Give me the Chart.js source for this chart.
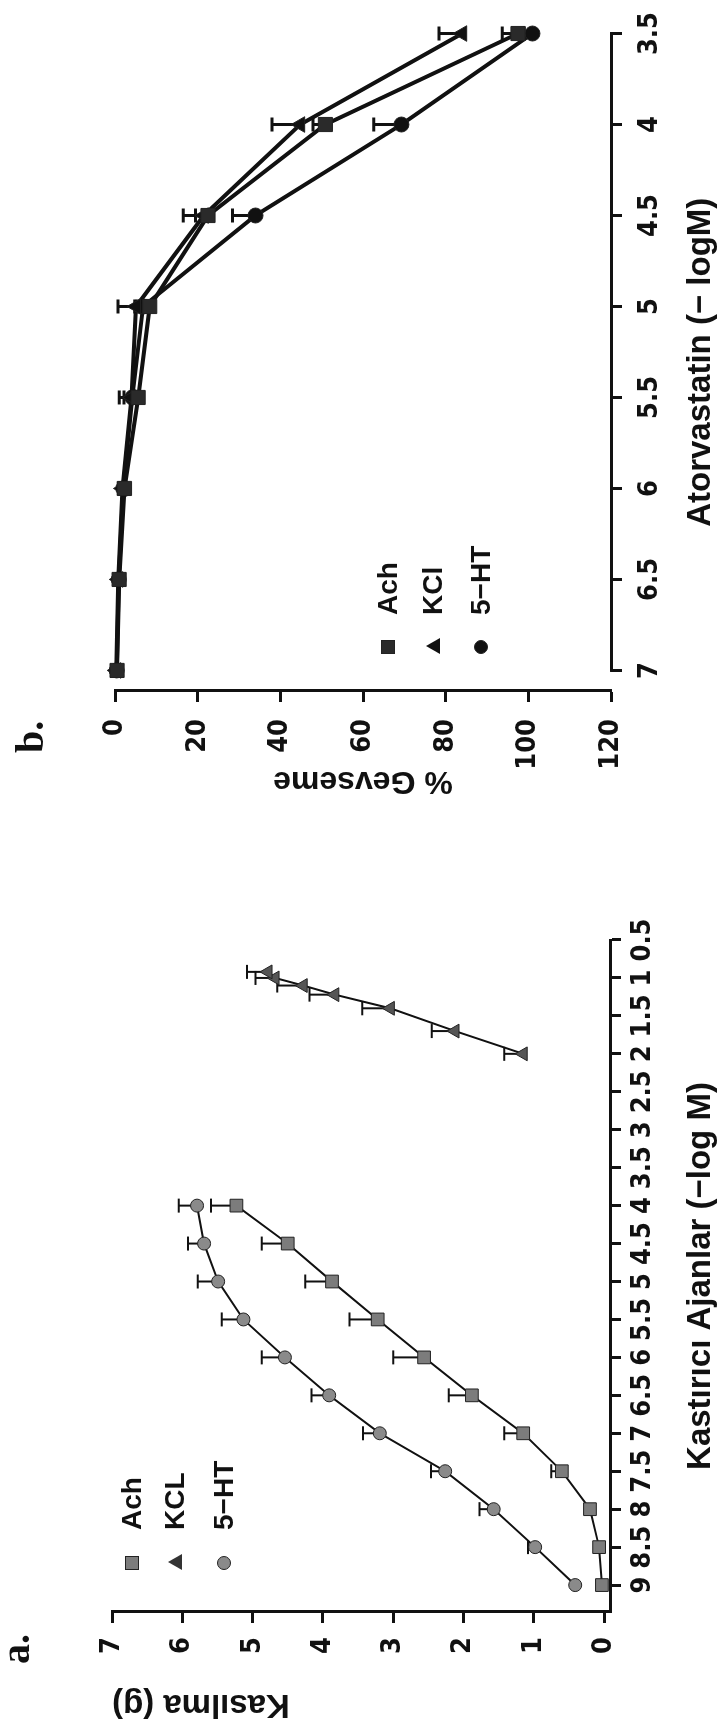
<!DOCTYPE html>
<html><head><meta charset="utf-8">
<script src="https://cdn.jsdelivr.net/npm/chart.js@4.4.1/dist/chart.umd.min.js"></script>
<style>
html,body{margin:0;padding:0;background:#fff;}
body{width:726px;height:1721px;overflow:hidden;position:relative;}
#fig{position:absolute;left:0;top:0;width:1721px;height:726px;transform-origin:0 0;transform:translateY(1721px) rotate(-90deg);background:#fff;}
#ca{position:absolute;left:0;top:0;}
#cb{position:absolute;left:860px;top:0;}
.lab{position:absolute;font-family:"Liberation Serif","Times New Roman",serif;font-weight:bold;font-size:40px;line-height:1;color:#111;}
.leg{position:absolute;font-family:"Liberation Sans",Arial,sans-serif;font-weight:bold;font-size:28px;line-height:1;color:#111;white-space:nowrap;}
.mk{position:absolute;}
</style></head><body>
<div id="fig">
  <canvas id="ca" width="860" height="726"></canvas>
  <canvas id="cb" width="861" height="726"></canvas>
  <div class="lab" style="left:57px;top:-4px">a.</div>
  <div class="lab" style="left:968px;top:10px">b.</div>
</div>
<script>
// ---------- Panel a: Kasılma (g) vs Kastırıcı Ajanlar (-log M) ----------
const aSeriesNames = ['Ach', 'KCL', '5−HT'];
const aConc = [9, 8.5, 8, 7.5, 7, 6.5, 6, 5.5, 5, 4.5, 4];
const aAch = [0.03, 0.07, 0.2, 0.6, 1.15, 1.88, 2.56, 3.22, 3.87, 4.5, 5.23];
const aAchErr = [0, 0, 0, 0.15, 0.27, 0.33, 0.44, 0.4, 0.38, 0.37, 0.36];
const a5HT = [0.41, 0.98, 1.57, 2.26, 3.19, 3.91, 4.54, 5.13, 5.49, 5.69, 5.79];
const a5HTErr = [0, 0.1, 0.2, 0.2, 0.24, 0.25, 0.33, 0.31, 0.29, 0.23, 0.26];
const aKclConc = [2.0, 1.7, 1.4, 1.22, 1.1, 1.0, 0.92];
const aKcl = [1.15, 2.12, 3.04, 3.83, 4.28, 4.68, 4.78];
const aKclErr = [0.27, 0.33, 0.4, 0.36, 0.37, 0.28, 0.3];
const aXTicks = [9, 8.5, 8, 7.5, 7, 6.5, 6, 5.5, 5, 4.5, 4, 3.5, 3, 2.5, 2, 1.5, 1, 0.5];
const aYTicks = [0, 1, 2, 3, 4, 5, 6, 7];
const aXTitle = 'Kastırıcı Ajanlar (−log M)';
const aYTitle = 'Kasılma (g)';

// ---------- Panel b: % Gevseme vs Atorvastatin (-logM) ----------
const bSeriesNames = ['Ach', 'KCl', '5−HT'];
const bConc = [7, 6.5, 6, 5.5, 5, 4.5, 4, 3.5];
const bAch = [0.5, 1.0, 2.3, 5.6, 8.4, 22.5, 50.9, 97.5];
const bAchErr = [0, 0.5, 1, 2, 3, 3, 3, 3.8];
const bKcl = [0.3, 0.8, 1.8, 4.0, 5.1, 21.5, 44.8, 84];
const bKclErr = [0, 0.5, 1, 3, 4.4, 5, 6.8, 5.6];
const b5HT = [0.4, 0.9, 2.0, 4.2, 6.8, 34, 69.3, 101];
const b5HTErr = [0, 0.5, 1, 2, 2, 5.6, 6.7, 2];
const bXTicks = [7, 6.5, 6, 5.5, 5, 4.5, 4, 3.5];
const bYTicks = [0, 20, 40, 60, 80, 100, 120];
const bXTitle = 'Atorvastatin (− logM)';
const bYTitle = '% Gevseme';

const pts = (xs, ys) => xs.map((x, i) => ({x: x, y: ys[i]}));
const tickFont = {family: '"Liberation Sans Narrow", "DejaVu Sans Condensed", "Liberation Sans", Arial, sans-serif', weight: 'bold', size: 27};
const titleFont = {family: '"Liberation Sans", Arial, sans-serif', weight: 'bold', size: 33, lineHeight: 1};
const INK = '#111';

const errorBars = {
  id: 'errorBars',
  beforeDatasetsDraw(chart, args, opts) {
    const ctx = chart.ctx, xs = chart.scales.x, ys = chart.scales.y;
    ctx.save();
    ctx.strokeStyle = INK; ctx.lineWidth = opts.width; ctx.lineCap = 'butt';
    chart.data.datasets.forEach(ds => {
      if (!ds.errors) return;
      ds.data.forEach((p, j) => {
        const e = ds.errors[j];
        if (!e) return;
        const x = xs.getPixelForValue(p.x);
        const y0 = ys.getPixelForValue(p.y);
        const y1 = ys.getPixelForValue(p.y + opts.dir * e);
        ctx.beginPath();
        ctx.moveTo(x, y0); ctx.lineTo(x, y1);
        ctx.moveTo(x - opts.cap, y1); ctx.lineTo(x + opts.cap, y1);
        ctx.stroke();
      });
    });
    ctx.restore();
  }
};

const xLine = {
  id: 'xLine',
  afterDraw(chart, args, opts) {
    if (!opts.ticks) return;
    const ctx = chart.ctx, xs = chart.scales.x;
    const a = xs.getPixelForValue(Math.max(...opts.ticks));
    const b = xs.getPixelForValue(Math.min(...opts.ticks));
    ctx.save();
    ctx.strokeStyle = INK; ctx.lineWidth = 3;
    ctx.beginPath(); ctx.moveTo(a - 1.5, xs.top + 0.5); ctx.lineTo(b + 1.5, xs.top + 0.5); ctx.stroke();
    ctx.restore();
  }
};

function axisCommon(tickVals, padding) {
  return {
    type: 'linear',
    afterBuildTicks: s => { s.ticks = tickVals.map(v => ({value: v})); },
    ticks: {autoSkip: false, maxRotation: 0, minRotation: 0, font: tickFont, color: INK, padding: padding,
            callback: v => String(v)},
    grid: {display: true, drawOnChartArea: false, drawTicks: true, tickLength: 11, tickWidth: 3, tickColor: INK},
    border: {display: true, color: INK, width: 3}
  };
}

function series(label, xs, ys, errs, style, radius, fill, lineW) {
  return {label: label, data: pts(xs, ys), errors: errs, borderColor: INK, borderWidth: lineW,
          pointStyle: style, pointRadius: radius, pointHoverRadius: radius,
          pointBackgroundColor: fill, pointBorderColor: '#222', pointBorderWidth: 1,
          tension: 0, fill: false, clip: false};
}

// Chart a
const axA = axisCommon(aXTicks, 6);
Object.assign(axA, {reverse: true, min: 0.5, max: 9.355,
  afterFit: s => { s.height = 116; },
  title: {display: true, text: aXTitle, font: titleFont, color: INK, padding: {top: 0, bottom: 9}}});
const ayA = axisCommon(aYTicks, 14);
Object.assign(ayA, {min: -0.085, max: 7,
  afterFit: s => { s.width = 109; },
  title: {display: true, text: aYTitle, align: 'end', font: titleFont, color: INK, padding: {top: 0, bottom: 0}}});

new Chart(document.getElementById('ca'), {
  type: 'line',
  data: {datasets: [
    series(aSeriesNames[0], aConc, aAch, aAchErr, 'rect', 9, '#7c7c7c', 2),
    series(aSeriesNames[1], aKclConc, aKcl, aKclErr, 'triangle', 8, '#555', 2),
    series(aSeriesNames[2], aConc, a5HT, a5HTErr, 'circle', 6.5, '#8a8a8a', 2)
  ]},
  options: {
    responsive: false, animation: false, devicePixelRatio: 1,
    layout: {padding: {left: 0, top: 112, right: 79, bottom: 0}},
    scales: {x: axA, y: ayA},
    plugins: {legend: {display: false}, tooltip: {enabled: false},
              errorBars: {dir: 1, cap: 7, width: 2}}
  },
  plugins: [errorBars]
});

// Chart b
const axB = axisCommon(bXTicks, 12);
Object.assign(axB, {reverse: true, min: 3.5, max: 7.113,
  border: {display: false},
  afterFit: s => { s.height = 115; },
  title: {display: true, text: bXTitle, font: titleFont, color: INK, padding: {top: 0, bottom: 9}}});
const ayB = axisCommon(bYTicks, 17);
Object.assign(ayB, {reverse: true, min: 0, max: 120,
  afterFit: s => { s.width = 170; },
  title: {display: true, text: bYTitle, font: Object.assign({}, titleFont, {size: 32}), color: INK, padding: {top: 64, bottom: 0}}});

new Chart(document.getElementById('cb'), {
  type: 'line',
  data: {datasets: [
    series(bSeriesNames[0], bConc, bAch, bAchErr, 'rect', 10, '#2a2a2a', 4),
    series(bSeriesNames[1], bConc, bKcl, bKclErr, 'triangle', 9, '#111', 4),
    series(bSeriesNames[2], bConc, b5HT, b5HTErr, 'circle', 7.5, '#111', 4)
  ]},
  options: {
    responsive: false, animation: false, devicePixelRatio: 1,
    layout: {padding: {left: 0, top: 115, right: 22, bottom: 0}},
    scales: {x: axB, y: ayB},
    plugins: {legend: {display: false}, tooltip: {enabled: false},
              errorBars: {dir: -1, cap: 7, width: 3},
              xLine: {ticks: bXTicks}}
  },
  plugins: [errorBars, xLine]
});

// Legends (HTML, inside rotated figure)
const fig = document.getElementById('fig');
function addLegend(mx, tx, rows, names, shapes, fills, sz) {
  names.forEach((n, i) => {
    const cy = rows[i];
    const m = document.createElement('div');
    m.className = 'mk';
    if (shapes[i] === 'tri') {
      m.style.cssText = `left:${mx - sz / 2}px;top:${cy - sz / 2}px;width:0;height:0;border-left:${sz / 2 + 1}px solid transparent;border-right:${sz / 2 + 1}px solid transparent;border-bottom:${sz}px solid ${fills[i]};`;
    } else {
      m.style.cssText = `left:${mx - sz / 2}px;top:${cy - sz / 2}px;width:${sz}px;height:${sz}px;background:${fills[i]};box-sizing:border-box;border:1px solid #222;border-radius:${shapes[i] === 'circle' ? '50%' : '0'};`;
    }
    fig.appendChild(m);
    const t = document.createElement('div');
    t.className = 'leg';
    t.textContent = n;
    t.style.left = tx + 'px';
    t.style.top = (cy - 14) + 'px';
    fig.appendChild(t);
  });
}
addLegend(158, 191, [132, 175, 224], aSeriesNames, ['rect', 'tri', 'circle'], ['#7c7c7c', '#333', '#8a8a8a'], 14);
addLegend(1074, 1106, [388, 433, 481], bSeriesNames, ['rect', 'tri', 'circle'], ['#2a2a2a', '#111', '#111'], 14);
</script>
</body></html>
